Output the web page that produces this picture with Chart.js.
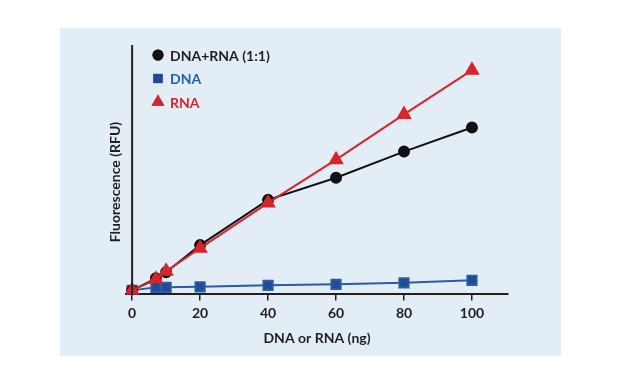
<!DOCTYPE html>
<html>
<head>
<meta charset="utf-8">
<script src="https://cdn.jsdelivr.net/npm/chart.js@4.4.1/dist/chart.umd.min.js"></script>
<style>
  html, body { margin: 0; padding: 0; background: #fff; }
  #wrap { position: relative; width: 621px; height: 381px; }
  #panel { position: absolute; left: 60px; top: 28px; width: 501px; height: 328px; background: #e2edf5; }
  #chart { position: absolute; left: 0; top: 0; }
</style>
</head>
<body>
<div id="wrap">
  <div id="panel"></div>
  <canvas id="chart" width="621" height="381"></canvas>
</div>
<script>
// amounts in ng
const amounts = [0, 7, 10, 20, 40, 60, 80, 100];
const xTicks = [0, 20, 40, 60, 80, 100];

// fluorescence, arbitrary units
const mixValues = [4, 16, 22, 49, 94, 116, 142, 166];
const dnaValues = [4, 7, 7, 7.5, 9, 10, 11.5, 14];
const rnaValues = [4, 15, 23, 46, 91, 134, 179, 223];

const seriesNames = ["DNA+RNA (1:1)", "DNA", "RNA"];

const textColor = "#231f20";
const fontFamily = "Lato, 'Open Sans', sans-serif";

function toPoints(values) {
    return values.map(function (v, i) { return { x: amounts[i], y: v }; });
}

// legend inside the plot, coloured text like the original
const legendPlugin = {
    id: "insideLegend",
    afterDraw: function (chart) {
        const ctx = chart.ctx;
        const area = chart.chartArea;
        const order = [0, 1, 2];
        ctx.save();
        ctx.font = "bold 14px " + fontFamily;
        ctx.textBaseline = "middle";
        order.forEach(function (idx, row) {
            const ds = chart.data.datasets[idx];
            const x = area.left + 32;
            const y = area.top + 10 + row * 23.5;
            Chart.helpers.drawPoint(ctx, {
                pointStyle: ds.pointStyle,
                radius: ds.legendRadius,
                borderWidth: 0
            }, x, y);
            ctx.fillStyle = ds.backgroundColor;
            ctx.fill();
            ctx.fillStyle = ds.legendColor;
            ctx.fillText(ds.label, x + 12, y + 1);
        });
        ctx.restore();
    }
};

// y axis line at x = 0 and rotated title
const yAxisPlugin = {
    id: "yAxisLine",
    afterDraw: function (chart) {
        const ctx = chart.ctx;
        const area = chart.chartArea;
        const x0 = chart.scales.x.getPixelForValue(0);
        ctx.save();
        ctx.strokeStyle = textColor;
        ctx.lineWidth = 2;
        ctx.beginPath();
        ctx.moveTo(x0, area.top);
        ctx.lineTo(x0, area.bottom);
        ctx.stroke();
        ctx.translate(x0 - 17, area.top + 137);
        ctx.rotate(-Math.PI / 2);
        ctx.font = "bold 14px " + fontFamily;
        ctx.fillStyle = textColor;
        ctx.textAlign = "center";
        ctx.textBaseline = "middle";
        ctx.fillText("Fluorescence (RFU)", 0, 0);
        ctx.restore();
    }
};

new Chart(document.getElementById("chart"), {
    type: "line",
    data: {
        datasets: [
            {
                label: seriesNames[0],
                data: toPoints(mixValues),
                borderColor: "#111111",
                backgroundColor: "#111111",
                legendColor: textColor,
                borderWidth: 2,
                pointStyle: "circle",
                pointRadius: 5,
                legendRadius: 5.5,
                order: 1
            },
            {
                label: seriesNames[1],
                data: toPoints(dnaValues),
                borderColor: "#2b5ca6",
                backgroundColor: "#1f4b97",
                legendColor: "#1f63b0",
                borderWidth: 2,
                pointStyle: "rect",
                pointRadius: 6.5,
                legendRadius: 6.5,
                order: 2
            },
            {
                label: seriesNames[2],
                data: toPoints(rnaValues),
                borderColor: "#d7252b",
                backgroundColor: "#d7252b",
                legendColor: "#d7252b",
                borderWidth: 2,
                pointStyle: "triangle",
                pointRadius: 7,
                legendRadius: 7.5,
                order: 0
            }
        ]
    },
    options: {
        responsive: false,
        animation: false,
        layout: { padding: { left: 126, right: 113, top: 45, bottom: 34 } },
        plugins: {
            legend: { display: false },
            tooltip: { enabled: false }
        },
        elements: { line: { tension: 0 } },
        scales: {
            x: {
                type: "linear",
                min: -1.8,
                max: 110.6,
                afterBuildTicks: function (axis) {
                    axis.ticks = xTicks.map(function (v) { return { value: v }; });
                },
                grid: {
                    drawOnChartArea: false,
                    drawTicks: true,
                    tickLength: 6,
                    color: textColor,
                    lineWidth: 1.5
                },
                border: { display: true, color: textColor, width: 2 },
                ticks: {
                    padding: 5,
                    color: textColor,
                    font: { family: fontFamily, size: 14, weight: "bold" },
                    maxRotation: 0
                },
                title: {
                    display: true,
                    text: "DNA or RNA (ng)",
                    color: textColor,
                    font: { family: fontFamily, size: 14, weight: "bold" },
                    padding: { top: 3, bottom: 0 }
                }
            },
            y: {
                type: "linear",
                display: false,
                min: 0,
                max: 248
            }
        }
    },
    plugins: [legendPlugin, yAxisPlugin]
});
</script>
</body>
</html>
